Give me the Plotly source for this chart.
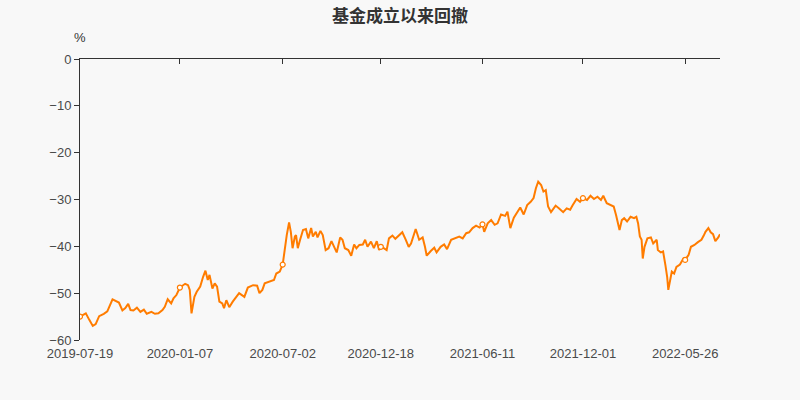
import plotly.graph_objects as go

dates = [
    "2019-07-19", "2019-07-29", "2019-08-04", "2019-08-10", "2019-08-15", "2019-08-21", "2019-08-29",
    "2019-09-04", "2019-09-13", "2019-09-18", "2019-09-24", "2019-09-30", "2019-10-05", "2019-10-10",
    "2019-10-14", "2019-10-19", "2019-10-25", "2019-10-31", "2019-11-06", "2019-11-11", "2019-11-19",
    "2019-11-25", "2019-12-01", "2019-12-08", "2019-12-12", "2019-12-17", "2019-12-23", "2019-12-27",
    "2020-01-01", "2020-01-07", "2020-01-16", "2020-01-21", "2020-01-24", "2020-01-27", "2020-02-01",
    "2020-02-05", "2020-02-11", "2020-02-16", "2020-02-20", "2020-02-24", "2020-02-27", "2020-03-03",
    "2020-03-07", "2020-03-11", "2020-03-15", "2020-03-20", "2020-03-23", "2020-03-27", "2020-04-01",
    "2020-04-07", "2020-04-12", "2020-04-18", "2020-04-27", "2020-05-03", "2020-05-12", "2020-05-19",
    "2020-05-23", "2020-05-28", "2020-06-01", "2020-06-10", "2020-06-17", "2020-06-21", "2020-06-27",
    "2020-07-02", "2020-07-06", "2020-07-09", "2020-07-13", "2020-07-16", "2020-07-19", "2020-07-23",
    "2020-07-25", "2020-07-28", "2020-08-01", "2020-08-06", "2020-08-11", "2020-08-15", "2020-08-20",
    "2020-08-23", "2020-08-28", "2020-08-31", "2020-09-05", "2020-09-09", "2020-09-14", "2020-09-19",
    "2020-09-24", "2020-09-27", "2020-10-03", "2020-10-09", "2020-10-13", "2020-10-17", "2020-10-23",
    "2020-10-28", "2020-11-02", "2020-11-06", "2020-11-11", "2020-11-17", "2020-11-21", "2020-11-25",
    "2020-12-01", "2020-12-06", "2020-12-11", "2020-12-15", "2020-12-18", "2020-12-23", "2020-12-28",
    "2021-01-01", "2021-01-07", "2021-01-12", "2021-01-17", "2021-01-24", "2021-01-30", "2021-02-04",
    "2021-02-08", "2021-02-16", "2021-02-22", "2021-02-28", "2021-03-04", "2021-03-07", "2021-03-14",
    "2021-03-20", "2021-03-24", "2021-03-31", "2021-04-06", "2021-04-11", "2021-04-18", "2021-04-25",
    "2021-05-02", "2021-05-08", "2021-05-14", "2021-05-19", "2021-05-25", "2021-05-31", "2021-06-06",
    "2021-06-11", "2021-06-14", "2021-06-20", "2021-06-26", "2021-07-02", "2021-07-07", "2021-07-13",
    "2021-07-20", "2021-07-24", "2021-07-29", "2021-08-04", "2021-08-09", "2021-08-15", "2021-08-21",
    "2021-08-27", "2021-09-02", "2021-09-07", "2021-09-11", "2021-09-15", "2021-09-20", "2021-09-24",
    "2021-09-28", "2021-10-02", "2021-10-07", "2021-10-11", "2021-10-15", "2021-10-21", "2021-10-28",
    "2021-11-03", "2021-11-09", "2021-11-13", "2021-11-20", "2021-11-26", "2021-12-01", "2021-12-08",
    "2021-12-14", "2021-12-20", "2021-12-26", "2022-01-01", "2022-01-05", "2022-01-11", "2022-01-17",
    "2022-01-23", "2022-01-27", "2022-01-30", "2022-02-02", "2022-02-06", "2022-02-10", "2022-02-15",
    "2022-02-21", "2022-02-27", "2022-03-03", "2022-03-06", "2022-03-09", "2022-03-12", "2022-03-14",
    "2022-03-17", "2022-03-22", "2022-03-28", "2022-04-01", "2022-04-07", "2022-04-09", "2022-04-14",
    "2022-04-18", "2022-04-22", "2022-04-25", "2022-04-27", "2022-04-30", "2022-05-03", "2022-05-07",
    "2022-05-11", "2022-05-17", "2022-05-23", "2022-05-26", "2022-06-01", "2022-06-05", "2022-06-11",
    "2022-06-17", "2022-06-23", "2022-06-27", "2022-06-30", "2022-07-05", "2022-07-09", "2022-07-13",
    "2022-07-17", "2022-07-22", "2022-07-25",
]

drawdown = [
    -55.0, -54.3, -55.7, -57.0, -56.6, -54.9, -54.4,
    -53.9, -51.3, -51.6, -52.0, -53.7, -53.2, -52.3,
    -53.6, -53.7, -53.1, -54.0, -53.5, -54.4, -54.0,
    -54.4, -54.3, -53.6, -52.9, -51.3, -52.2, -51.1,
    -50.4, -48.8, -48.0, -48.3, -49.3, -54.3, -50.8,
    -49.7, -48.6, -46.5, -45.2, -47.2, -46.1, -49.0,
    -47.9, -48.6, -51.8, -52.2, -53.2, -51.5, -53.0,
    -51.8, -51.0, -50.0, -50.8, -48.8, -48.3, -48.4,
    -50.0, -49.3, -47.9, -47.5, -47.2, -45.8, -45.4,
    -43.9, -39.7, -37.6, -34.9, -36.9, -40.4, -37.9,
    -37.6, -40.4, -38.6, -36.5, -36.3, -38.3, -36.1,
    -37.9, -36.9, -38.1, -36.7, -37.6, -40.8, -40.4,
    -38.9, -39.7, -41.3, -38.1, -38.6, -40.4, -40.8,
    -42.0, -39.6, -40.4, -39.7, -39.6, -38.6, -40.1,
    -39.0, -40.4, -38.9, -40.8, -40.1, -40.4, -40.8,
    -38.3, -37.7, -38.4, -37.9, -37.0, -38.6, -40.1,
    -39.4, -36.3, -38.6, -38.1, -40.1, -42.0, -41.0,
    -40.3, -41.3, -40.1, -39.6, -40.6, -38.6, -38.3,
    -37.9, -38.3, -37.2, -37.0, -36.1, -35.6, -36.0,
    -35.3, -36.9, -35.1, -34.4, -35.4, -35.1, -33.2,
    -33.5, -32.6, -36.1, -33.9, -32.9, -31.7, -33.2,
    -31.2, -30.5, -29.7, -27.6, -26.2, -26.9, -28.3,
    -28.0, -31.5, -32.7, -31.9, -31.3, -31.9, -32.7,
    -31.9, -32.2, -31.3, -29.9, -30.5, -29.7, -30.1,
    -29.2, -29.9, -29.4, -30.1, -29.2, -30.8, -31.2,
    -31.5, -33.3, -35.1, -36.5, -34.4, -34.0, -34.7,
    -33.7, -34.0, -33.7, -35.1, -37.9, -38.6, -42.6,
    -40.1, -38.3, -38.1, -39.4, -38.6, -40.8, -41.3,
    -41.1, -44.0, -46.5, -49.3, -47.6, -45.4, -45.8,
    -44.4, -43.9, -42.6, -42.9, -41.8, -40.1, -39.7,
    -39.1, -38.6, -37.7, -36.9, -36.1, -37.0, -37.4,
    -38.9, -38.1, -37.4,
]

tick_dates = ["2019-07-19", "2020-01-07", "2020-07-02", "2020-12-18",
              "2021-06-11", "2021-12-01", "2022-05-26"]

title_text = "基金成立以来回撤"
y_unit = "%"

line_color = "#ff7c00"
bg = "#f8f8f8"
axis_color = "#333333"
label_color = "#4a4a4a"

mark_x = [d for d in dates if d in tick_dates]
mark_y = [v for d, v in zip(dates, drawdown) if d in tick_dates]

x_range = [dates[0], dates[-1]]

fig = go.Figure()
fig.add_trace(go.Scatter(
    x=dates, y=drawdown, mode="lines",
    line=dict(color=line_color, width=2),
    hoverinfo="skip", showlegend=False,
))
fig.add_trace(go.Scatter(
    x=mark_x, y=mark_y, mode="markers",
    marker=dict(size=5, color="#ffffff", line=dict(color=line_color, width=1.2)),
    hoverinfo="skip", showlegend=False,
))
# invisible trace for top axis
fig.add_trace(go.Scatter(
    x=x_range, y=[0, 0], mode="lines", line=dict(width=0),
    xaxis="x2", hoverinfo="skip", showlegend=False, opacity=0,
))

fig.update_layout(
    width=800, height=400,
    margin=dict(l=80, r=80, t=59, b=60),
    paper_bgcolor=bg, plot_bgcolor=bg,
    font=dict(family="Liberation Sans, Arial, sans-serif", color=label_color, size=13),
    title=dict(
        text="<b>" + title_text + "</b>",
        x=0.5, xanchor="center", y=0.975, yanchor="top",
        font=dict(family="Noto Sans CJK SC, sans-serif", size=17, color="#333333"),
    ),
    xaxis=dict(
        type="date", range=x_range,
        tickvals=tick_dates, ticktext=tick_dates,
        showline=False, ticks="", showgrid=False, zeroline=False,
        ticklabelstandoff=4,
        tickfont=dict(size=13, color=label_color),
    ),
    xaxis2=dict(
        type="date", range=x_range, overlaying="x", side="top",
        tickvals=tick_dates + [dates[-1]],
        showticklabels=False, showline=True, linecolor=axis_color, linewidth=1,
        ticks="inside", ticklen=5, tickcolor=axis_color, showgrid=False, zeroline=False,
    ),
    yaxis=dict(
        range=[-60, 0], dtick=10, tick0=0,
        showline=True, linecolor=axis_color, linewidth=1,
        ticks="outside", ticklen=5, tickcolor=axis_color,
        showgrid=False, zeroline=False,
        tickfont=dict(size=13, color=label_color),
    ),
    annotations=[dict(
        text=y_unit, xref="paper", yref="paper", x=0, y=1, xanchor="center", yanchor="bottom",
        yshift=12, showarrow=False, font=dict(size=13, color="#333333"),
    )],
)

fig.write_html("out.html")
